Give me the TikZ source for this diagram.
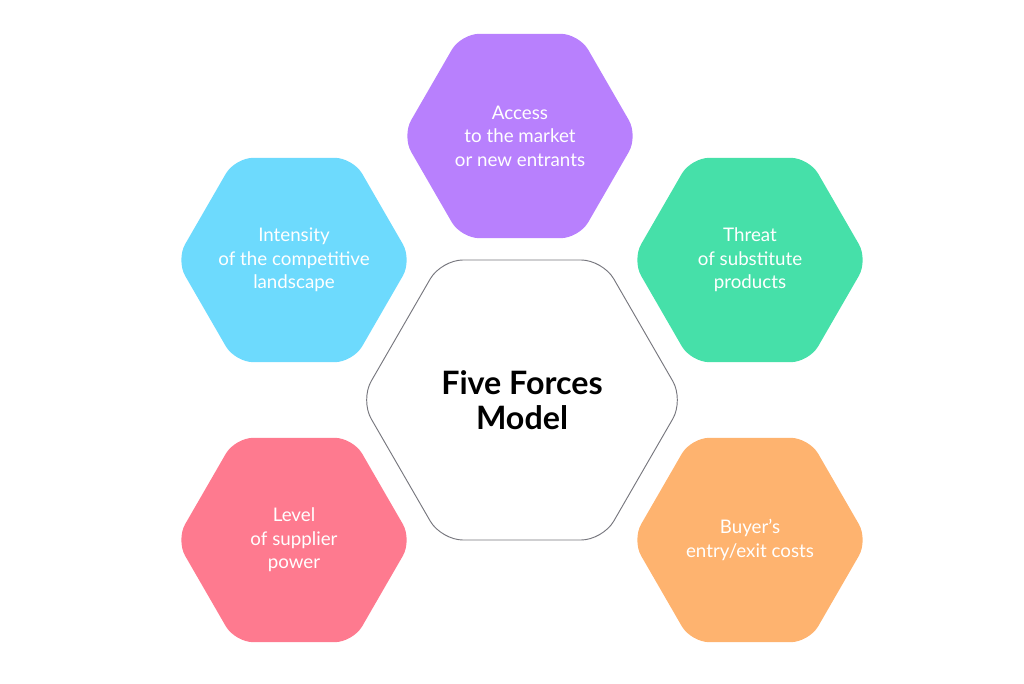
\documentclass[tikz,border=0pt]{standalone}
\usepackage{fontspec}
\setmainfont{Lato}
\usetikzlibrary{shapes.geometric}
\definecolor{forcepurple}{HTML}{B880FD}
\definecolor{forceblue}{HTML}{6DDAFD}
\definecolor{forcegreen}{HTML}{46E0A9}
\definecolor{forcepink}{HTML}{FE7A8F}
\definecolor{forceorange}{HTML}{FEB36F}
\definecolor{coreline}{HTML}{77777E}
\begin{document}
\begin{tikzpicture}[x=0.03cm, y=-0.03cm, line join=round,
		force/.style={regular polygon, regular polygon sides=6, minimum size=7.08cm, inner sep=-0.6cm,
			rounded corners=0.55cm, text=white, align=center, font=\fontsize{16}{20}\selectfont},
		core/.style={regular polygon, regular polygon sides=6, minimum size=9.7cm, inner sep=-0.6cm,
			rounded corners=0.65cm, draw=coreline, line width=0.8pt, fill=white, align=center,
			font=\fontsize{27.5}{30}\selectfont\bfseries}]
	\useasboundingbox (0,0) rectangle (1024,684);
	% centre
	\node[core] (model) at (522,400) {Five Forces\\Model};
	% the five forces
	\node[force, fill=forcepurple] (entrants) at (520,136) {Access\\to the market\\or new entrants};
	\node[force, fill=forceblue] (rivalry) at (294,260) {Intensity\\of the competitive\\landscape};
	\node[force, fill=forcegreen] (substitutes) at (750,260) {Threat\\of substitute\\products};
	\node[force, fill=forcepink] (suppliers) at (294,540) {Level\\of supplier\\power};
	\node[force, fill=forceorange] (buyers) at (750,540) {Buyer's\\entry/exit costs};
\end{tikzpicture}
\end{document}
